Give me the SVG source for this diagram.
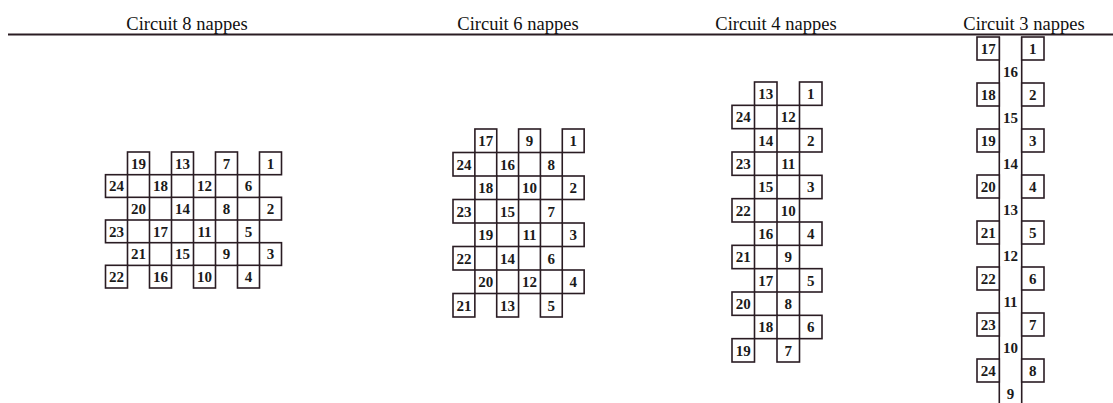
<svg xmlns="http://www.w3.org/2000/svg" width="1113" height="403" viewBox="0 0 1113 403">
<style>
.box{fill:#fff;stroke:#2a1c23;stroke-width:1.6}
.ln{stroke:#2a1c23;stroke-width:1.6;fill:none}
.rule{stroke:#2a1c23;stroke-width:1.8}
.n{font-family:"Liberation Serif","Times New Roman",serif;font-weight:bold;font-size:15px;text-anchor:middle;fill:#1a1a1a}
.t{font-family:"Liberation Serif","Times New Roman",serif;font-size:18.5px;text-anchor:middle;fill:#111}
</style>
<rect width="1113" height="403" fill="#fff"/>
<g id="header">
<line class="rule" x1="8" y1="34.5" x2="1113" y2="34.5"/>
<text class="t" x="187" y="30">Circuit 8 nappes</text>
<text class="t" x="518" y="30">Circuit 6 nappes</text>
<text class="t" x="776" y="30">Circuit 4 nappes</text>
<text class="t" x="1024" y="30">Circuit 3 nappes</text>
</g>
<g id="connectors">
<line class="ln" x1="999.3" y1="37" x2="999.3" y2="403"/>
<line class="ln" x1="1021.7" y1="37" x2="1021.7" y2="403"/>
</g>
<!-- Circuit 8 -->
<g id="circuit8">
<g id="c8-19"><rect class="box" x="127.5" y="152" width="22" height="22.7"/><text class="n" x="138.5" y="168.7">19</text></g>
<g id="c8-13"><rect class="box" x="171.5" y="152" width="22" height="22.7"/><text class="n" x="182.5" y="168.7">13</text></g>
<g id="c8-7"><rect class="box" x="215.5" y="152" width="22" height="22.7"/><text class="n" x="226.5" y="168.7">7</text></g>
<g id="c8-1"><rect class="box" x="259.5" y="152" width="22" height="22.7"/><text class="n" x="270.5" y="168.7">1</text></g>
<g id="c8-24"><rect class="box" x="105.5" y="174.7" width="22" height="22.7"/><text class="n" x="116.5" y="191.3">24</text></g>
<g id="c8-18"><rect class="box" x="149.5" y="174.7" width="22" height="22.7"/><text class="n" x="160.5" y="191.3">18</text></g>
<g id="c8-12"><rect class="box" x="193.5" y="174.7" width="22" height="22.7"/><text class="n" x="204.5" y="191.3">12</text></g>
<g id="c8-6"><rect class="box" x="237.5" y="174.7" width="22" height="22.7"/><text class="n" x="248.5" y="191.3">6</text></g>
<g id="c8-20"><rect class="box" x="127.5" y="197.3" width="22" height="22.7"/><text class="n" x="138.5" y="214">20</text></g>
<g id="c8-14"><rect class="box" x="171.5" y="197.3" width="22" height="22.7"/><text class="n" x="182.5" y="214">14</text></g>
<g id="c8-8"><rect class="box" x="215.5" y="197.3" width="22" height="22.7"/><text class="n" x="226.5" y="214">8</text></g>
<g id="c8-2"><rect class="box" x="259.5" y="197.3" width="22" height="22.7"/><text class="n" x="270.5" y="214">2</text></g>
<g id="c8-23"><rect class="box" x="105.5" y="220" width="22" height="22.7"/><text class="n" x="116.5" y="236.7">23</text></g>
<g id="c8-17"><rect class="box" x="149.5" y="220" width="22" height="22.7"/><text class="n" x="160.5" y="236.7">17</text></g>
<g id="c8-11"><rect class="box" x="193.5" y="220" width="22" height="22.7"/><text class="n" x="204.5" y="236.7">11</text></g>
<g id="c8-5"><rect class="box" x="237.5" y="220" width="22" height="22.7"/><text class="n" x="248.5" y="236.7">5</text></g>
<g id="c8-21"><rect class="box" x="127.5" y="242.7" width="22" height="22.7"/><text class="n" x="138.5" y="259.3">21</text></g>
<g id="c8-15"><rect class="box" x="171.5" y="242.7" width="22" height="22.7"/><text class="n" x="182.5" y="259.3">15</text></g>
<g id="c8-9"><rect class="box" x="215.5" y="242.7" width="22" height="22.7"/><text class="n" x="226.5" y="259.3">9</text></g>
<g id="c8-3"><rect class="box" x="259.5" y="242.7" width="22" height="22.7"/><text class="n" x="270.5" y="259.3">3</text></g>
<g id="c8-22"><rect class="box" x="105.5" y="265.3" width="22" height="22.7"/><text class="n" x="116.5" y="282">22</text></g>
<g id="c8-16"><rect class="box" x="149.5" y="265.3" width="22" height="22.7"/><text class="n" x="160.5" y="282">16</text></g>
<g id="c8-10"><rect class="box" x="193.5" y="265.3" width="22" height="22.7"/><text class="n" x="204.5" y="282">10</text></g>
<g id="c8-4"><rect class="box" x="237.5" y="265.3" width="22" height="22.7"/><text class="n" x="248.5" y="282">4</text></g>
</g>
<!-- Circuit 6 -->
<g id="circuit6">
<g id="c6-17"><rect class="box" x="474.9" y="129" width="21.85" height="23.5"/><text class="n" x="485.8" y="146.1">17</text></g>
<g id="c6-9"><rect class="box" x="518.6" y="129" width="21.85" height="23.5"/><text class="n" x="529.5" y="146.1">9</text></g>
<g id="c6-1"><rect class="box" x="562.3" y="129" width="21.85" height="23.5"/><text class="n" x="573.2" y="146.1">1</text></g>
<g id="c6-24"><rect class="box" x="453" y="152.5" width="21.85" height="23.5"/><text class="n" x="463.9" y="169.6">24</text></g>
<g id="c6-16"><rect class="box" x="496.7" y="152.5" width="21.85" height="23.5"/><text class="n" x="507.6" y="169.6">16</text></g>
<g id="c6-8"><rect class="box" x="540.4" y="152.5" width="21.85" height="23.5"/><text class="n" x="551.3" y="169.6">8</text></g>
<g id="c6-18"><rect class="box" x="474.9" y="176" width="21.85" height="23.5"/><text class="n" x="485.8" y="193.1">18</text></g>
<g id="c6-10"><rect class="box" x="518.6" y="176" width="21.85" height="23.5"/><text class="n" x="529.5" y="193.1">10</text></g>
<g id="c6-2"><rect class="box" x="562.3" y="176" width="21.85" height="23.5"/><text class="n" x="573.2" y="193.1">2</text></g>
<g id="c6-23"><rect class="box" x="453" y="199.5" width="21.85" height="23.5"/><text class="n" x="463.9" y="216.6">23</text></g>
<g id="c6-15"><rect class="box" x="496.7" y="199.5" width="21.85" height="23.5"/><text class="n" x="507.6" y="216.6">15</text></g>
<g id="c6-7"><rect class="box" x="540.4" y="199.5" width="21.85" height="23.5"/><text class="n" x="551.3" y="216.6">7</text></g>
<g id="c6-19"><rect class="box" x="474.9" y="223" width="21.85" height="23.5"/><text class="n" x="485.8" y="240.1">19</text></g>
<g id="c6-11"><rect class="box" x="518.6" y="223" width="21.85" height="23.5"/><text class="n" x="529.5" y="240.1">11</text></g>
<g id="c6-3"><rect class="box" x="562.3" y="223" width="21.85" height="23.5"/><text class="n" x="573.2" y="240.1">3</text></g>
<g id="c6-22"><rect class="box" x="453" y="246.5" width="21.85" height="23.5"/><text class="n" x="463.9" y="263.6">22</text></g>
<g id="c6-14"><rect class="box" x="496.7" y="246.5" width="21.85" height="23.5"/><text class="n" x="507.6" y="263.6">14</text></g>
<g id="c6-6"><rect class="box" x="540.4" y="246.5" width="21.85" height="23.5"/><text class="n" x="551.3" y="263.6">6</text></g>
<g id="c6-20"><rect class="box" x="474.9" y="270" width="21.85" height="23.5"/><text class="n" x="485.8" y="287.1">20</text></g>
<g id="c6-12"><rect class="box" x="518.6" y="270" width="21.85" height="23.5"/><text class="n" x="529.5" y="287.1">12</text></g>
<g id="c6-4"><rect class="box" x="562.3" y="270" width="21.85" height="23.5"/><text class="n" x="573.2" y="287.1">4</text></g>
<g id="c6-21"><rect class="box" x="453" y="293.5" width="21.85" height="23.5"/><text class="n" x="463.9" y="310.6">21</text></g>
<g id="c6-13"><rect class="box" x="496.7" y="293.5" width="21.85" height="23.5"/><text class="n" x="507.6" y="310.6">13</text></g>
<g id="c6-5"><rect class="box" x="540.4" y="293.5" width="21.85" height="23.5"/><text class="n" x="551.3" y="310.6">5</text></g>
</g>
<!-- Circuit 4 -->
<g id="circuit4">
<g id="c4-13"><rect class="box" x="754.5" y="82" width="22.5" height="23.33"/><text class="n" x="765.75" y="99">13</text></g>
<g id="c4-1"><rect class="box" x="799.5" y="82" width="22.5" height="23.33"/><text class="n" x="810.75" y="99">1</text></g>
<g id="c4-24"><rect class="box" x="732" y="105.33" width="22.5" height="23.33"/><text class="n" x="743.25" y="122.3">24</text></g>
<g id="c4-12"><rect class="box" x="777" y="105.33" width="22.5" height="23.33"/><text class="n" x="788.25" y="122.3">12</text></g>
<g id="c4-14"><rect class="box" x="754.5" y="128.67" width="22.5" height="23.33"/><text class="n" x="765.75" y="145.6">14</text></g>
<g id="c4-2"><rect class="box" x="799.5" y="128.67" width="22.5" height="23.33"/><text class="n" x="810.75" y="145.6">2</text></g>
<g id="c4-23"><rect class="box" x="732" y="152" width="22.5" height="23.33"/><text class="n" x="743.25" y="169">23</text></g>
<g id="c4-11"><rect class="box" x="777" y="152" width="22.5" height="23.33"/><text class="n" x="788.25" y="169">11</text></g>
<g id="c4-15"><rect class="box" x="754.5" y="175.33" width="22.5" height="23.33"/><text class="n" x="765.75" y="192.3">15</text></g>
<g id="c4-3"><rect class="box" x="799.5" y="175.33" width="22.5" height="23.33"/><text class="n" x="810.75" y="192.3">3</text></g>
<g id="c4-22"><rect class="box" x="732" y="198.67" width="22.5" height="23.33"/><text class="n" x="743.25" y="215.6">22</text></g>
<g id="c4-10"><rect class="box" x="777" y="198.67" width="22.5" height="23.33"/><text class="n" x="788.25" y="215.6">10</text></g>
<g id="c4-16"><rect class="box" x="754.5" y="222" width="22.5" height="23.33"/><text class="n" x="765.75" y="239">16</text></g>
<g id="c4-4"><rect class="box" x="799.5" y="222" width="22.5" height="23.33"/><text class="n" x="810.75" y="239">4</text></g>
<g id="c4-21"><rect class="box" x="732" y="245.33" width="22.5" height="23.33"/><text class="n" x="743.25" y="262.3">21</text></g>
<g id="c4-9"><rect class="box" x="777" y="245.33" width="22.5" height="23.33"/><text class="n" x="788.25" y="262.3">9</text></g>
<g id="c4-17"><rect class="box" x="754.5" y="268.67" width="22.5" height="23.33"/><text class="n" x="765.75" y="285.6">17</text></g>
<g id="c4-5"><rect class="box" x="799.5" y="268.67" width="22.5" height="23.33"/><text class="n" x="810.75" y="285.6">5</text></g>
<g id="c4-20"><rect class="box" x="732" y="292" width="22.5" height="23.33"/><text class="n" x="743.25" y="309">20</text></g>
<g id="c4-8"><rect class="box" x="777" y="292" width="22.5" height="23.33"/><text class="n" x="788.25" y="309">8</text></g>
<g id="c4-18"><rect class="box" x="754.5" y="315.33" width="22.5" height="23.33"/><text class="n" x="765.75" y="332.3">18</text></g>
<g id="c4-6"><rect class="box" x="799.5" y="315.33" width="22.5" height="23.33"/><text class="n" x="810.75" y="332.3">6</text></g>
<g id="c4-19"><rect class="box" x="732" y="338.67" width="22.5" height="23.33"/><text class="n" x="743.25" y="355.6">19</text></g>
<g id="c4-7"><rect class="box" x="777" y="338.67" width="22.5" height="23.33"/><text class="n" x="788.25" y="355.6">7</text></g>
</g>
<!-- Circuit 3 -->
<g id="circuit3">
<g id="c3-17"><rect class="box" x="977" y="37" width="22.3" height="23"/><text class="n" x="988.2" y="53.8">17</text></g>
<g id="c3-1"><rect class="box" x="1021.7" y="37" width="22.3" height="23"/><text class="n" x="1032.8" y="53.8">1</text></g>
<g id="c3-16"><text class="n" x="1010.5" y="76.8">16</text></g>
<g id="c3-18"><rect class="box" x="977" y="83" width="22.3" height="23"/><text class="n" x="988.2" y="99.8">18</text></g>
<g id="c3-2"><rect class="box" x="1021.7" y="83" width="22.3" height="23"/><text class="n" x="1032.8" y="99.8">2</text></g>
<g id="c3-15"><text class="n" x="1010.5" y="122.8">15</text></g>
<g id="c3-19"><rect class="box" x="977" y="129" width="22.3" height="23"/><text class="n" x="988.2" y="145.8">19</text></g>
<g id="c3-3"><rect class="box" x="1021.7" y="129" width="22.3" height="23"/><text class="n" x="1032.8" y="145.8">3</text></g>
<g id="c3-14"><text class="n" x="1010.5" y="168.8">14</text></g>
<g id="c3-20"><rect class="box" x="977" y="175" width="22.3" height="23"/><text class="n" x="988.2" y="191.8">20</text></g>
<g id="c3-4"><rect class="box" x="1021.7" y="175" width="22.3" height="23"/><text class="n" x="1032.8" y="191.8">4</text></g>
<g id="c3-13"><text class="n" x="1010.5" y="214.8">13</text></g>
<g id="c3-21"><rect class="box" x="977" y="221" width="22.3" height="23"/><text class="n" x="988.2" y="237.8">21</text></g>
<g id="c3-5"><rect class="box" x="1021.7" y="221" width="22.3" height="23"/><text class="n" x="1032.8" y="237.8">5</text></g>
<g id="c3-12"><text class="n" x="1010.5" y="260.8">12</text></g>
<g id="c3-22"><rect class="box" x="977" y="267" width="22.3" height="23"/><text class="n" x="988.2" y="283.8">22</text></g>
<g id="c3-6"><rect class="box" x="1021.7" y="267" width="22.3" height="23"/><text class="n" x="1032.8" y="283.8">6</text></g>
<g id="c3-11"><text class="n" x="1010.5" y="306.8">11</text></g>
<g id="c3-23"><rect class="box" x="977" y="313" width="22.3" height="23"/><text class="n" x="988.2" y="329.8">23</text></g>
<g id="c3-7"><rect class="box" x="1021.7" y="313" width="22.3" height="23"/><text class="n" x="1032.8" y="329.8">7</text></g>
<g id="c3-10"><text class="n" x="1010.5" y="352.8">10</text></g>
<g id="c3-24"><rect class="box" x="977" y="359" width="22.3" height="23"/><text class="n" x="988.2" y="375.8">24</text></g>
<g id="c3-8"><rect class="box" x="1021.7" y="359" width="22.3" height="23"/><text class="n" x="1032.8" y="375.8">8</text></g>
<g id="c3-9"><text class="n" x="1010.5" y="398.8">9</text></g>
</g>
</svg>
